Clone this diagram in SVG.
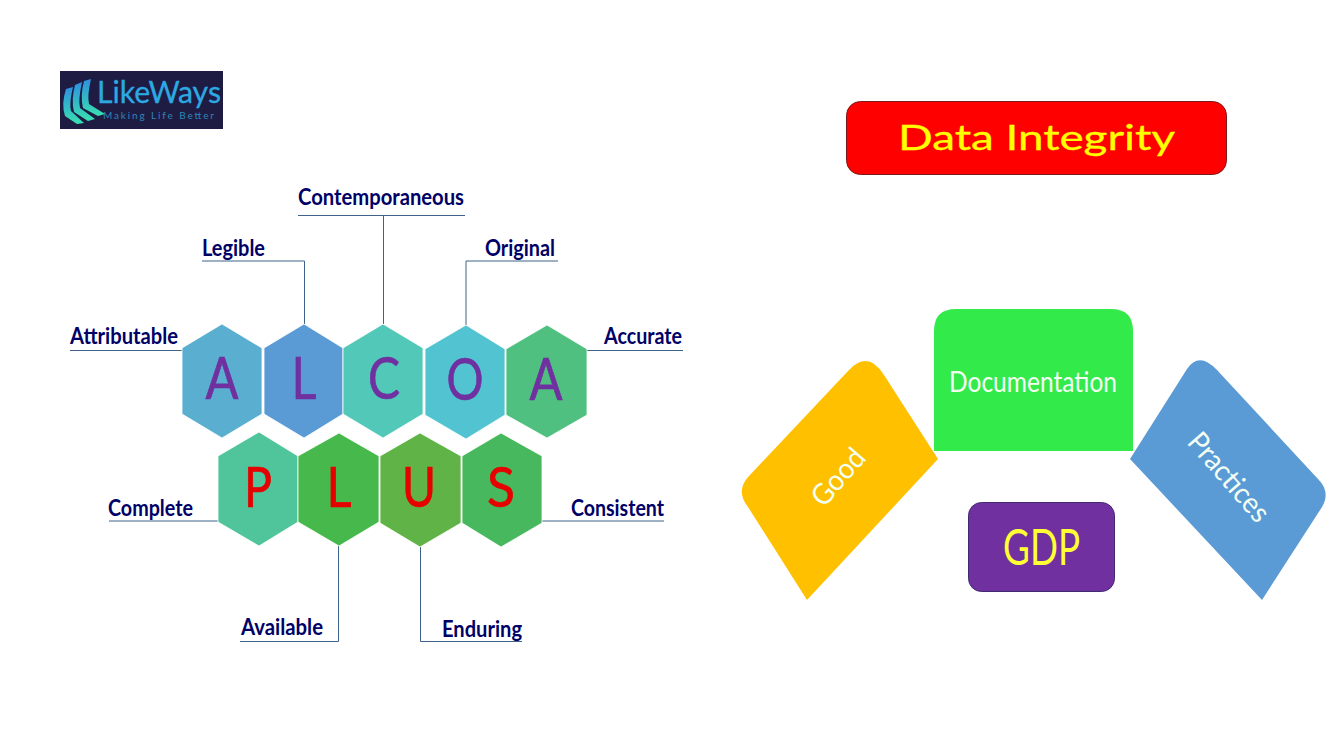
<svg xmlns="http://www.w3.org/2000/svg" width="1343" height="750" viewBox="0 0 1343 750">
<style>
text{font-family:Lato,"Liberation Sans",sans-serif}
.lab{font-size:22px;font-weight:700;fill:#000066}
.pur{font-size:58px;fill:#7030A0;stroke:#7030A0;stroke-width:.7;text-anchor:middle}
.red{font-size:56px;fill:#E60000;stroke:#E60000;stroke-width:.7;text-anchor:middle}
.wht{font-size:29px;fill:#F4FFF4;text-anchor:middle}
.hex{stroke:#fff;stroke-width:.8}
.con{fill:none;stroke:#3F6288;stroke-width:1}
</style>
<defs>
<linearGradient id="st" x1="0" y1="0" x2="0" y2="1"><stop offset="0" stop-color="#2F8FE0"/><stop offset="1" stop-color="#38E0B0"/></linearGradient>
</defs>
<rect width="1343" height="750" fill="#fff"/>
<g id="logo">
<rect x="60" y="71" width="163" height="58" fill="#1F1C44"/>
<path d="M66 89L73 87Q69 103 71 111L84 123L77 124L65 116Q61 104 66 89Z" fill="url(#st)"/>
<path d="M75 85L82 82Q78 100 80 108L95 119L88 121L74 112Q71 100 75 85Z" fill="url(#st)"/>
<path d="M84 81L91 79Q87 96 89 104L105 114L98 116L83 108Q80 96 84 81Z" fill="url(#st)"/>
<text x="97" y="103" font-size="30" fill="#2CA9E1" stroke="#2CA9E1" stroke-width=".3" textLength="124" lengthAdjust="spacingAndGlyphs">LikeWays</text>
<text x="103" y="119" font-size="10" fill="#2C86B8" textLength="111" lengthAdjust="spacing">Making Life Better</text>
</g>
<g id="connectors">
<path class="con" d="M70 350.500H182"/>
<path class="con" d="M202 261H304.500V324"/>
<path class="con" d="M298 215.500H465M383.500 215V324"/>
<path class="con" d="M558 261H466V325"/>
<path class="con" d="M587 350.500H683"/>
<path class="con" d="M109 521H218"/>
<path class="con" d="M542 521H664"/>
<path class="con" d="M240 641.500H338.500V546"/>
<path class="con" d="M420.500 547V641.500H522"/>
</g>
<g id="label-attributable"><text class="lab" x="70" y="344" textLength="108" lengthAdjust="spacingAndGlyphs">Attributable</text></g>
<g id="label-legible"><text class="lab" x="202" y="256" textLength="63" lengthAdjust="spacingAndGlyphs">Legible</text></g>
<g id="label-contemporaneous"><text class="lab" x="298" y="205" textLength="166" lengthAdjust="spacingAndGlyphs">Contemporaneous</text></g>
<g id="label-original"><text class="lab" x="485" y="256" textLength="70" lengthAdjust="spacingAndGlyphs">Original</text></g>
<g id="label-accurate"><text class="lab" x="604" y="344" textLength="78" lengthAdjust="spacingAndGlyphs">Accurate</text></g>
<g id="label-complete"><text class="lab" x="108" y="516" textLength="85" lengthAdjust="spacingAndGlyphs">Complete</text></g>
<g id="label-consistent"><text class="lab" x="571" y="516" textLength="93" lengthAdjust="spacingAndGlyphs">Consistent</text></g>
<g id="label-available"><text class="lab" x="241" y="635" textLength="82" lengthAdjust="spacingAndGlyphs">Available</text></g>
<g id="label-enduring"><text class="lab" x="442" y="637" textLength="80" lengthAdjust="spacingAndGlyphs">Enduring</text></g>
<g id="hex-a1"><polygon class="hex" fill="#5AAFD0" points="222,324 262,348 262,414 222,438 182,414 182,348"/><text class="pur" x="222" y="399" textLength="33" lengthAdjust="spacingAndGlyphs">A</text></g>
<g id="hex-l1"><polygon class="hex" fill="#5B9BD5" points="304,324 343,348 343,414 304,438 264,414 264,348"/><text class="pur" x="304" y="399" textLength="25" lengthAdjust="spacingAndGlyphs">L</text></g>
<g id="hex-c"><polygon class="hex" fill="#52C8B8" points="383,324 423,348 423,414 383,438 343,414 343,348"/><text class="pur" x="384" y="399" textLength="32" lengthAdjust="spacingAndGlyphs">C</text></g>
<g id="hex-o"><polygon class="hex" fill="#52C3D0" points="466,325 505,349 505,415 466,439 425,415 425,349"/><text class="pur" x="465" y="400" textLength="37" lengthAdjust="spacingAndGlyphs">O</text></g>
<g id="hex-a2"><polygon class="hex" fill="#4FC080" points="547,325 587,349 587,415 547,438 506,415 506,349"/><text class="pur" x="546" y="400" textLength="33" lengthAdjust="spacingAndGlyphs">A</text></g>
<g id="hex-p"><polygon class="hex" fill="#50C49A" points="259,432 298,456 298,522 259,546 218,522 218,456"/><text class="red" x="258" y="507" textLength="28" lengthAdjust="spacingAndGlyphs">P</text></g>
<g id="hex-l2"><polygon class="hex" fill="#47B84B" points="339,433 379,456 379,522 339,546 298,522 298,456"/><text class="red" x="339" y="507" textLength="25" lengthAdjust="spacingAndGlyphs">L</text></g>
<g id="hex-u"><polygon class="hex" fill="#60B347" points="420,433 461,456 461,523 420,547 380,523 380,456"/><text class="red" x="419" y="507" textLength="34" lengthAdjust="spacingAndGlyphs">U</text></g>
<g id="hex-s"><polygon class="hex" fill="#48B85E" points="501,433 542,456 542,523 501,547 462,523 462,456"/><text class="red" x="501" y="507" textLength="28" lengthAdjust="spacingAndGlyphs">S</text></g>
<g id="title"><rect x="846.500" y="101.500" width="380" height="73" rx="14" fill="#FF0000" stroke="#7A1A1A"/><text x="898" y="150" font-size="34" fill="#FFFF00" stroke="#FFFF00" stroke-width=".3" textLength="277" lengthAdjust="spacingAndGlyphs">Data Integrity</text></g>
<g id="good"><path d="M938 459L807 600L748 507Q735 491 749 476L849 370Q868 350 884 375Z" fill="#FFC000"/><text class="wht" transform="translate(838 477) rotate(-49)" y="10" textLength="66" lengthAdjust="spacingAndGlyphs">Good</text></g>
<g id="documentation"><path d="M934 451V331Q934 309 956 309H1111Q1133 309 1133 331V451Z" fill="#33EA4B"/><text class="wht" x="1033" y="392" textLength="168" lengthAdjust="spacingAndGlyphs">Documentation</text></g>
<g id="practices"><path d="M1130 459L1262 600L1322 507Q1331 492 1318 479L1217 370Q1199 351 1187 369Z" fill="#5B9BD5"/><text class="wht" transform="translate(1229 477) rotate(49)" y="10" textLength="108" lengthAdjust="spacingAndGlyphs">Practices</text></g>
<g id="gdp"><rect x="968.500" y="502.500" width="146" height="89" rx="13" fill="#7030A0" stroke="#3F2A70"/><text x="1041.500" y="565" font-size="50" fill="#FFFF33" text-anchor="middle" textLength="77" lengthAdjust="spacingAndGlyphs">GDP</text></g>
</svg>
